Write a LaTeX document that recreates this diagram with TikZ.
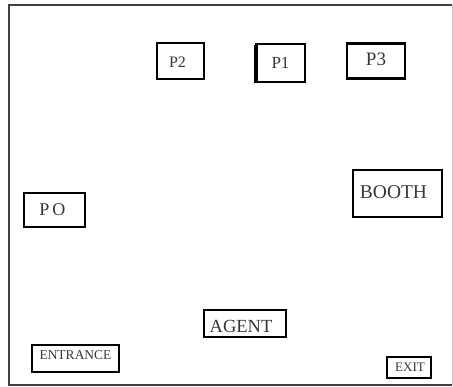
\documentclass[tikz,border=0pt]{standalone}
\usepackage{fontspec}
\setmainfont{Liberation Serif}
\begin{document}
\begin{tikzpicture}[x=1pt,y=1pt,
  box/.style={draw=black,line width=1.8pt,fill=white,inner sep=0pt},
  thickbox/.style={box,line width=2.4pt},
  lbl/.style={inner sep=0pt,text=black!78},
  frame/.style={draw=black!75,line width=1.8pt}]
\useasboundingbox (0,0) rectangle (453,387);
\draw[frame] (452,382) -- (9,382) -- (9,2) -- (452,2);
\draw[draw=black!20,line width=1pt] (452,382) -- (452,2);
% boxes
\node[box,minimum width=47,minimum height=36] (p2) at (180.5,326) {};
\node[box,minimum width=49,minimum height=38] (p1) at (280.5,324) {};
\draw[line width=3.5pt] ([xshift=1pt,yshift=-2pt]p1.north west) -- ([xshift=1pt]p1.south west);
\node[thickbox,minimum width=58,minimum height=35] (p3) at (376,326) {};
\node[thickbox,minimum width=61,minimum height=34] (po) at (54.5,177) {};
\node[thickbox,minimum width=89,minimum height=47] (booth) at (397.5,193.5) {};
\node[box,minimum width=82,minimum height=27] (agent) at (245,63.5) {};
\node[box,minimum width=87,minimum height=27] (entrance) at (75.5,28.5) {};
\node[box,minimum width=44,minimum height=21] (exit) at (409,19.5) {};
% labels
\node[lbl,font=\fontsize{16}{17}\selectfont] (p2t) at ([xshift=-3,yshift=-1]p2.center) {P2};
\node[lbl,font=\fontsize{17}{18}\selectfont] (p1t) at (p1.center) {P1};
\node[lbl,font=\fontsize{19}{20}\selectfont] (p3t) at ([yshift=2]p3.center) {P3};
\node[lbl,font=\fontsize{18}{19}\selectfont] (pot) at ([xshift=-2]po.center) {P\,O};
\node[lbl,font=\fontsize{19.5}{20}\selectfont] (bootht) at ([xshift=-4,yshift=1]booth.center) {BOOTH};
\node[lbl,font=\fontsize{18.5}{19}\selectfont] (agentt) at ([xshift=-4,yshift=-3]agent.center) {AGENT};
\node[lbl,font=\fontsize{13.5}{14}\selectfont] (entrancet) at ([yshift=3]entrance.center) {ENTRANCE};
\node[lbl,font=\fontsize{13}{14}\selectfont] (exitt) at ([xshift=1]exit.center) {EXIT};
\end{tikzpicture}
\end{document}
